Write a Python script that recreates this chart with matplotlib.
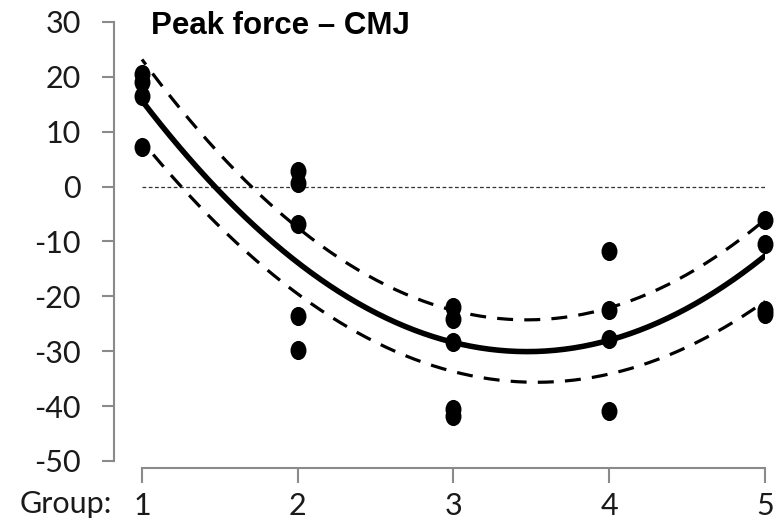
import numpy as np
import matplotlib
matplotlib.use("Agg")
import matplotlib.pyplot as plt
from matplotlib.path import Path
from matplotlib.transforms import Affine2D, blended_transform_factory

plt.rcParams['axes.unicode_minus'] = False

# data
groups = [1, 2, 3, 4, 5]
g1 = [20.5, 19.0, 16.5, 7.3]
g2 = [2.9, 0.7, -6.9, -23.5, -29.8]
g3 = [-22.0, -24.2, -28.4, -40.5, -41.8]
g4 = [-11.8, -22.4, -27.8, -40.9]
g5 = [-6.0, -10.5, -22.4, -23.3]
# fitted curve and its band, read at each group
fit_mid = [15.5, -13.5, -28.5, -28.2, -12.5]
fit_up = [23.0, -7.0, -23.0, -22.0, -6.0]
fit_low = [8.5, -20.0, -33.5, -34.0, -21.0]
yticks = [30, 20, 10, 0, -10, -20, -30, -40, -50]

fig = plt.figure(figsize=(7.79, 5.2), dpi=100)
ax = fig.add_axes([0.1463, 0.1135, 0.982 - 0.1463, 0.9577 - 0.1135])

# slightly tall round marker
oval = Path.unit_circle().transformed(Affine2D().scale(1.0, 1.2))

allg = [g1, g2, g3, g4, g5]
for x, vals in zip(groups, allg):
    ax.scatter([x] * len(vals), vals, marker=oval, s=190, color='black',
               zorder=4, clip_on=False, linewidths=0)

xs = np.linspace(1, 5, 200)
mid = np.polyval(np.polyfit(groups, fit_mid, 2), xs)
up = np.polyval(np.polyfit(groups, fit_up, 2), xs)
low = np.polyval(np.polyfit(groups, fit_low, 2), xs)
ax.plot(xs, mid, color='black', lw=4, zorder=3, solid_capstyle='round')
ax.plot(xs, up, color='black', lw=2.3, ls=(3, (5, 3.5)), zorder=3)
ax.plot(xs, low, color='black', lw=2.3, ls=(3, (5, 3.5)), zorder=3)
ax.plot([1, 5], [0, 0], color='#333333', lw=0.9, ls=(0, (3, 2)), zorder=2)

ax.set_xlim(0.82, 5.0)
ax.set_ylim(-50, 30)
ax.set_yticks(yticks)
ax.set_xticks(groups)

grey = '#8a8a8a'
for s in ['top', 'right']:
    ax.spines[s].set_visible(False)
ax.spines['left'].set_color(grey)
ax.spines['bottom'].set_color(grey)
ax.spines['left'].set_linewidth(1.5)
ax.spines['bottom'].set_linewidth(1.5)
ax.spines['bottom'].set_bounds(1, 5)
ax.spines['bottom'].set_position(('outward', 5))

ax.tick_params(axis='y', length=9, width=1.5, color=grey, pad=15,
               labelsize=22, labelcolor='#1a1a1a')
ax.tick_params(axis='x', length=11, width=1.5, color=grey, pad=6,
               labelsize=22, labelcolor='#1a1a1a')
for lab in ax.get_xticklabels() + ax.get_yticklabels():
    lab.set_family(['Lato', 'DejaVu Sans'])

trans = blended_transform_factory(ax.transData, ax.transAxes)
ax.text(0.81, -0.098, 'Group:', transform=trans, ha='right', va='center',
        fontsize=22, family=['Lato', 'DejaVu Sans'], color='#1a1a1a')

ax.text(1.058, 29.3, 'Peak force \u2013 CMJ', ha='left', va='center',
        fontsize=22.5, fontweight='bold', family=['Liberation Sans', 'DejaVu Sans'])

fig.savefig('out.png', dpi=100)
